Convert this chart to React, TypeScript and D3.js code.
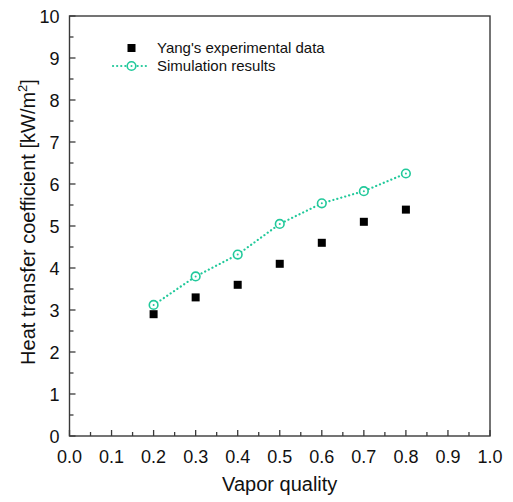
import React, { useEffect, useRef } from "react";
import * as d3 from "d3";

// vapor quality
const quality = [0.2, 0.3, 0.4, 0.5, 0.6, 0.7, 0.8];
// Yang's experimental data [kW/m2]
const experimental = [2.9, 3.3, 3.6, 4.1, 4.6, 5.1, 5.39];
// simulation results [kW/m2]
const simulation = [3.12, 3.8, 4.32, 5.05, 5.54, 5.83, 6.25];

const xTicks = [0, 0.1, 0.2, 0.3, 0.4, 0.5, 0.6, 0.7, 0.8, 0.9, 1.0];
const yTicks = [0, 1, 2, 3, 4, 5, 6, 7, 8, 9, 10];

const teal = "#22c99b";
const axisColor = "#3a3a3a";
const font = "Arial, 'Liberation Sans', sans-serif";

const App = () => {
  const ref = useRef<SVGSVGElement>(null);
  const dims = { width: 513, height: 502 };
  const margin = { top: 16, right: 23, bottom: 66, left: 69.5 };

  useEffect(() => {
    const svg = d3.select(ref.current);
    svg.selectAll("*").remove();

    const x = d3
      .scaleLinear()
      .domain([0, 1])
      .range([margin.left, dims.width - margin.right]);
    const y = d3
      .scaleLinear()
      .domain([0, 10])
      .range([dims.height - margin.bottom, margin.top]);

    const g = svg.append("g");

    // frame
    g.append("rect")
      .attr("x", x(0))
      .attr("y", y(10))
      .attr("width", x(1) - x(0))
      .attr("height", y(0) - y(10))
      .attr("fill", "none")
      .attr("stroke", axisColor)
      .attr("stroke-width", 1.4);

    // x axis, ticks pointing inward
    const xMinor = d3.range(0.05, 1, 0.1);
    const xAxis = g.append("g").attr("transform", `translate(0,${y(0)})`);
    xAxis
      .selectAll("line.major")
      .data(xTicks)
      .join("line")
      .attr("x1", (d) => x(d))
      .attr("x2", (d) => x(d))
      .attr("y1", 0)
      .attr("y2", -6)
      .attr("stroke", axisColor)
      .attr("stroke-width", 1.3);
    xAxis
      .selectAll("line.minor")
      .data(xMinor)
      .join("line")
      .attr("x1", (d) => x(d))
      .attr("x2", (d) => x(d))
      .attr("y1", 0)
      .attr("y2", -4)
      .attr("stroke", axisColor)
      .attr("stroke-width", 1.3);
    xAxis
      .selectAll("text")
      .data(xTicks)
      .join("text")
      .attr("x", (d) => x(d))
      .attr("y", 27)
      .attr("text-anchor", "middle")
      .attr("font-family", font)
      .attr("font-size", 18)
      .attr("fill", "#111")
      .text((d) => d3.format(".1f")(d));

    // y axis
    const yMinor = d3.range(0.5, 10, 1);
    const yAxis = g.append("g").attr("transform", `translate(${x(0)},0)`);
    yAxis
      .selectAll("line.major")
      .data(yTicks)
      .join("line")
      .attr("y1", (d) => y(d))
      .attr("y2", (d) => y(d))
      .attr("x1", 0)
      .attr("x2", 6)
      .attr("stroke", axisColor)
      .attr("stroke-width", 1.3);
    yAxis
      .selectAll("line.minor")
      .data(yMinor)
      .join("line")
      .attr("y1", (d) => y(d))
      .attr("y2", (d) => y(d))
      .attr("x1", 0)
      .attr("x2", 4)
      .attr("stroke", axisColor)
      .attr("stroke-width", 1.3);
    yAxis
      .selectAll("text")
      .data(yTicks)
      .join("text")
      .attr("x", -10)
      .attr("y", (d) => y(d) + 6.5)
      .attr("text-anchor", "end")
      .attr("font-family", font)
      .attr("font-size", 18)
      .attr("fill", "#111")
      .text((d) => d);

    // axis titles
    g.append("text")
      .attr("x", (x(0) + x(1)) / 2)
      .attr("y", 491)
      .attr("text-anchor", "middle")
      .attr("font-family", font)
      .attr("font-size", 20)
      .attr("fill", "#111")
      .text("Vapor quality");

    const yt = g
      .append("text")
      .attr("transform", `translate(35,222) rotate(-90)`)
      .attr("text-anchor", "middle")
      .attr("font-family", font)
      .attr("font-size", 20)
      .attr("fill", "#111");
    yt.append("tspan").text("Heat transfer coefficient [kW/m");
    yt.append("tspan").attr("font-size", 13).attr("dy", -8).text("2");
    yt.append("tspan").attr("dy", 8).text("]");

    // simulation line
    const line = d3
      .line<number>()
      .x((_, i) => x(quality[i]))
      .y((d) => y(d));
    g.append("path")
      .attr("d", line(simulation))
      .attr("fill", "none")
      .attr("stroke", teal)
      .attr("stroke-width", 2.2)
      .attr("stroke-dasharray", "0.1 4")
      .attr("stroke-linecap", "round");

    // experimental squares
    g.selectAll("rect.exp")
      .data(experimental)
      .join("rect")
      .attr("class", "exp")
      .attr("x", (d, i) => x(quality[i]) - 4)
      .attr("y", (d) => y(d) - 4)
      .attr("width", 8)
      .attr("height", 8)
      .attr("fill", "#000");

    // simulation circles
    const circ = (sel: any) => {
      sel.append("circle")
        .attr("r", 4.3)
        .attr("fill", "white")
        .attr("stroke", teal)
        .attr("stroke-width", 1.6);
      sel.append("circle").attr("r", 1).attr("fill", teal);
    };
    g.selectAll("g.sim")
      .data(simulation)
      .join("g")
      .attr("class", "sim")
      .attr("transform", (d, i) => `translate(${x(quality[i])},${y(d)})`)
      .call(circ);

    // legend
    const leg = g.append("g");
    leg.append("rect")
      .attr("x", 127.5)
      .attr("y", 44)
      .attr("width", 8)
      .attr("height", 8)
      .attr("fill", "#000");
    leg.append("text")
      .attr("x", 157)
      .attr("y", 53)
      .attr("font-family", font)
      .attr("font-size", 15)
      .attr("fill", "#111")
      .text("Yang's experimental data");
    leg.append("line")
      .attr("x1", 113)
      .attr("x2", 149)
      .attr("y1", 66)
      .attr("y2", 66)
      .attr("stroke", teal)
      .attr("stroke-width", 2.2)
      .attr("stroke-dasharray", "0.1 4")
      .attr("stroke-linecap", "round");
    leg.append("g").attr("transform", "translate(131.5,66)").call(circ);
    leg.append("text")
      .attr("x", 157)
      .attr("y", 71)
      .attr("font-family", font)
      .attr("font-size", 15)
      .attr("fill", "#111")
      .text("Simulation results");
  }, []);

  return (
    <svg
      ref={ref}
      width={dims.width}
      height={dims.height}
      style={{ position: "absolute", left: 0, top: 0, background: "white" }}
    ></svg>
  );
};

export default App;
